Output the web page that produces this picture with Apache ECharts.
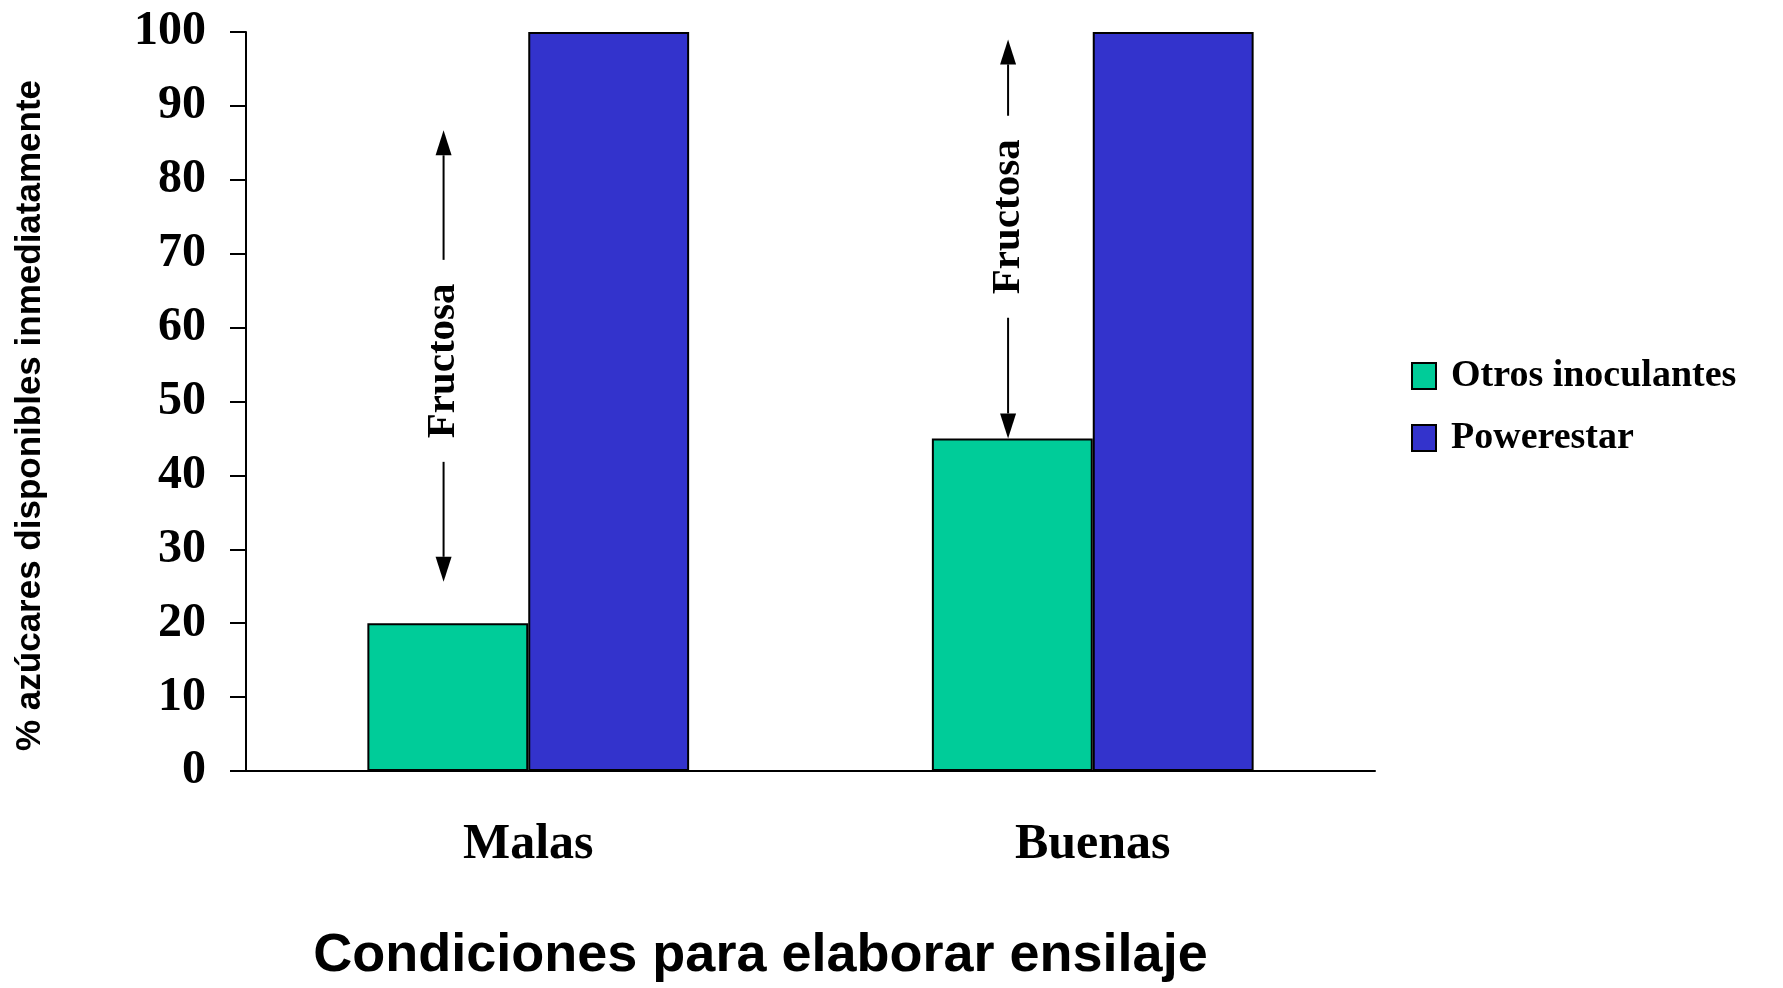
<!DOCTYPE html>
<html>
<head>
<meta charset="utf-8">
<title>Condiciones para elaborar ensilaje</title>
<style>
    html, body { margin: 0; padding: 0; background: #fff; }
    #chart { width: 1783px; height: 988px; }
</style>
</head>
<body>
<div id="chart"></div>
<script src="https://cdn.jsdelivr.net/npm/echarts@6/dist/echarts.min.js"></script>
<script>
    // datos
    var categories = ['Malas', 'Buenas'];
    var otrosValues = [20, 45];
    var powerValues = [100, 100];
    // flechas "Fructosa": extremo superior, inferior y centro del texto (en %)
    var fructosaTop = [86.7, 99];
    var fructosaBottom = [25.6, 45];
    var fructosaLabelAt = [55.5, 75];

    var serif = '"Liberation Serif", "Times New Roman", serif';
    var sans = '"Liberation Sans", Arial, sans-serif';

    var arrowData = categories.map(function (c, i) {
        return [i, fructosaTop[i], fructosaBottom[i], fructosaLabelAt[i]];
    });

    function renderArrow(params, api) {
        var idx = api.value(0);
        var top = api.coord([idx, api.value(1)]);
        var bot = api.coord([idx, api.value(2)]);
        var mid = api.coord([idx, api.value(3)])[1];
        var band = api.size([1, 0])[0];
        var x = top[0] - band * 0.15;
        var gap = 101, ah = 25, aw = 8;
        var ls = { stroke: '#000', lineWidth: 2 };
        return {
            type: 'group',
            children: [
                { type: 'line', shape: { x1: x, y1: top[1] + ah, x2: x, y2: mid - gap }, style: ls },
                { type: 'line', shape: { x1: x, y1: mid + gap, x2: x, y2: bot[1] - ah }, style: ls },
                { type: 'polygon', shape: { points: [[x, top[1]], [x - aw, top[1] + ah], [x + aw, top[1] + ah]] }, style: { fill: '#000' } },
                { type: 'polygon', shape: { points: [[x, bot[1]], [x - aw, bot[1] - ah], [x + aw, bot[1] - ah]] }, style: { fill: '#000' } },
                {
                    type: 'text', x: x, y: mid, rotation: Math.PI / 2,
                    style: {
                        text: 'Fructosa', fill: '#000', align: 'center', verticalAlign: 'middle',
                        font: 'bold 41px ' + serif
                    }
                }
            ]
        };
    }

    var myChart = echarts.init(document.getElementById('chart'));
    var option = {
        animation: false,
        backgroundColor: '#fff',
        grid: { left: 246, right: 408, top: 32, bottom: 215 },
        legend: {
            data: ['Otros inoculantes', 'Powerestar'],
            orient: 'vertical',
            left: 1406,
            top: 352,
            itemWidth: 24,
            itemHeight: 26,
            itemGap: 24,
            icon: 'rect',
            textStyle: { fontFamily: serif, fontWeight: 'bold', fontSize: 38, color: '#000', padding: [0, 0, 0, 10] }
        },
        xAxis: {
            type: 'category',
            data: categories,
            axisLine: { lineStyle: { color: '#000', width: 2 } },
            axisTick: { length: 15, lineStyle: { color: '#000', width: 2 } },
            axisLabel: { margin: 49, fontFamily: serif, fontWeight: 'bold', fontSize: 50, color: '#000' },
            name: 'Condiciones para elaborar ensilaje',
            nameLocation: 'middle',
            nameGap: 158,
            nameTextStyle: { fontFamily: sans, fontWeight: 'bold', fontSize: 54, color: '#000', padding: [0, 100, 0, 0] }
        },
        yAxis: {
            type: 'value',
            min: 0,
            max: 100,
            interval: 10,
            splitLine: { show: false },
            axisLine: { show: true, lineStyle: { color: '#000', width: 2 } },
            axisTick: { show: true, length: 16, lineStyle: { color: '#000', width: 2 } },
            axisLabel: { margin: 40, fontFamily: serif, fontWeight: 'bold', fontSize: 48, color: '#000' },
            name: '% azúcares disponibles inmediatamente',
            nameLocation: 'middle',
            nameGap: 198,
            nameTextStyle: { fontFamily: sans, fontWeight: 'bold', fontSize: 35, color: '#000', padding: [0, 28, 0, 0] }
        },
        series: [
            {
                name: 'Otros inoculantes',
                type: 'bar',
                data: otrosValues,
                barGap: 0,
                barCategoryGap: '43%',
                itemStyle: { color: '#00CC99', borderColor: '#000', borderWidth: 2 }
            },
            {
                name: 'Powerestar',
                type: 'bar',
                data: powerValues,
                itemStyle: { color: '#3333CC', borderColor: '#000', borderWidth: 2 }
            },
            {
                name: 'Fructosa',
                type: 'custom',
                renderItem: renderArrow,
                data: arrowData,
                encode: { x: 0, y: [1, 2] },
                z: 5,
                silent: true
            }
        ]
    };
    myChart.setOption(option);
</script>
</body>
</html>
